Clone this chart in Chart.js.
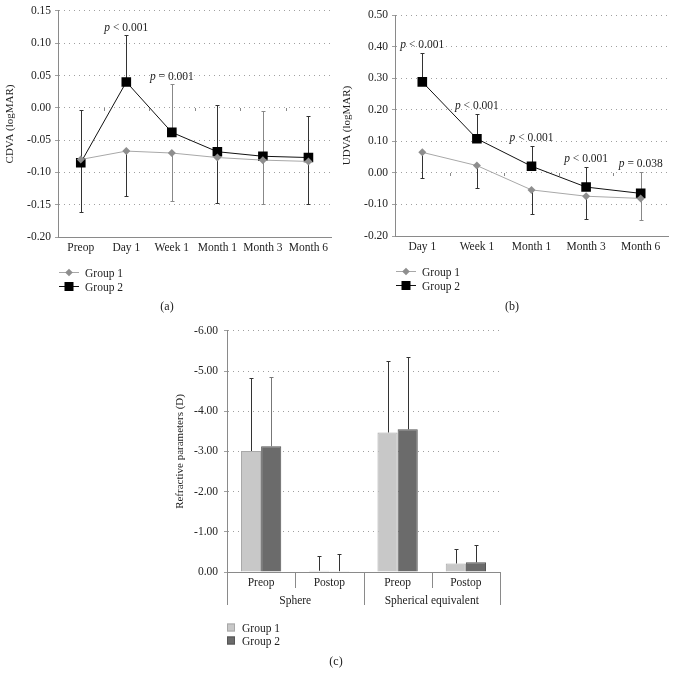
<!DOCTYPE html>
<html>
<head>
<meta charset="utf-8">
<script src="https://cdn.jsdelivr.net/npm/chart.js@4"></script>
<style>
  body { margin: 0; background: #fff; width: 675px; height: 684px; position: relative; overflow: hidden; font-family: "Liberation Serif", serif; }
  .box { position: absolute; }
  .cap { position: absolute; font-size: 12px; color: #222; transform: translateX(-50%); }
</style>
</head>
<body>
<div class="box" style="left:0;top:0;width:338px;height:320px"><canvas id="chartA"></canvas></div>
<div class="box" style="left:337px;top:0;width:338px;height:320px"><canvas id="chartB"></canvas></div>
<div class="box" style="left:150px;top:318px;width:370px;height:335px"><canvas id="chartC"></canvas></div>
<div class="cap" style="left:167px;top:299px">(a)</div>
<div class="cap" style="left:512px;top:299px">(b)</div>
<div class="cap" style="left:336px;top:654px">(c)</div>

<script>
// (a) CDVA
var visitsA = ['Preop', 'Day 1', 'Week 1', 'Month 1', 'Month 3', 'Month 6'];
var cdvaGroup1 = [-0.080, -0.067, -0.070, -0.077, -0.081, -0.083];
var cdvaGroup2 = [-0.085, 0.040, -0.038, -0.068, -0.075, -0.077];
var cdvaGroup2Upper = [-0.003, 0.112, 0.037, 0.005, -0.005, -0.012];
var cdvaGroup1Lower = [-0.162, -0.137, -0.144, -0.147, -0.149, -0.149];
var cdvaPValues = ['', 'p < 0.001', 'p = 0.001', '', '', ''];

// (b) UDVA
var visitsB = ['Day 1', 'Week 1', 'Month 1', 'Month 3', 'Month 6'];
var udvaGroup1 = [0.065, 0.023, -0.054, -0.074, -0.081];
var udvaGroup2 = [0.288, 0.108, 0.021, -0.045, -0.065];
var udvaGroup2Upper = [0.380, 0.187, 0.084, 0.020, 0.002];
var udvaGroup1Lower = [-0.015, -0.047, -0.129, -0.145, -0.149];
var udvaPValues = ['p < 0.001', 'p < 0.001', 'p < 0.001', 'p < 0.001', 'p = 0.038'];

// (c) refraction
var refrLabels = ['Preop', 'Postop', 'Preop', 'Postop'];
var refrGroups = ['Sphere', 'Spherical equivalent'];
var refrGroup1 = [-3.01, -0.03, -3.47, -0.21];
var refrGroup2 = [-3.13, -0.02, -3.55, -0.24];
var refrGroup1Err = [-4.83, -0.39, -5.26, -0.57];
var refrGroup2Err = [-4.86, -0.44, -5.36, -0.67];

Chart.defaults.font.family = '"Liberation Serif", serif';
Chart.defaults.font.size = 11.5;
Chart.defaults.color = '#222';

var SERIF = '"Liberation Serif", serif';
var gridColor = '#a0a0a0';
var axisColor = '#8a8a8a';

function fmt2(v) {
    if (Math.abs(v) < 1e-9) return '0.00';
    return v.toFixed(2);
}

// error bars from a dataset's points to given end values
var errorBarPlugin = {
    id: 'errorBars',
    beforeDatasetsDraw: function(chart, args, opts) {
        if (!opts.bars) return;
        var ctx = chart.ctx, ys = chart.scales.y;
        ctx.save();
        ctx.lineWidth = 1;
        opts.bars.forEach(function(bar) {
            var meta = chart.getDatasetMeta(bar.dataset);
            meta.data.forEach(function(el, i) {
                var end = bar.ends[i];
                if (end == null) return;
                ctx.strokeStyle = Array.isArray(bar.color) ? bar.color[i] : bar.color;
                var x = Math.round(el.x) + 0.5;
                var y1 = Math.round(ys.getPixelForValue(end)) + 0.5;
                ctx.beginPath();
                ctx.moveTo(x, el.y);
                ctx.lineTo(x, y1);
                ctx.moveTo(x - bar.cap, y1);
                ctx.lineTo(x + bar.cap, y1);
                ctx.stroke();
            });
        });
        ctx.restore();
    }
};

// p value labels above the upper error bar
var pLabelPlugin = {
    id: 'pLabels',
    afterDatasetsDraw: function(chart, args, opts) {
        if (!opts.labels) return;
        var ctx = chart.ctx, ys = chart.scales.y;
        var meta = chart.getDatasetMeta(opts.dataset);
        ctx.save();
        ctx.fillStyle = '#222';
        ctx.textBaseline = 'alphabetic';
        opts.labels.forEach(function(txt, i) {
            if (!txt) return;
            var x = meta.data[i].x;
            var y = ys.getPixelForValue(opts.anchors[i]) - opts.gap;
            var rest = txt.slice(1);
            ctx.font = 'italic 11.5px ' + SERIF;
            var w1 = ctx.measureText('p').width;
            ctx.font = '11.5px ' + SERIF;
            var w2 = ctx.measureText(rest).width;
            var x0 = x - (w1 + w2) / 2;
            ctx.font = 'italic 11.5px ' + SERIF;
            ctx.fillText('p', x0, y);
            ctx.font = '11.5px ' + SERIF;
            ctx.fillText(rest, x0 + w1, y);
        });
        ctx.restore();
    }
};

// small category ticks on the zero line
var zeroTickPlugin = {
    id: 'zeroTicks',
    afterDraw: function(chart, args, opts) {
        if (!opts.display) return;
        var ctx = chart.ctx, xs = chart.scales.x, ys = chart.scales.y;
        var n = chart.data.labels.length;
        var y0 = Math.round(ys.getPixelForValue(0));
        ctx.save();
        ctx.strokeStyle = axisColor;
        ctx.lineWidth = 1;
        for (var i = 1; i < n; i++) {
            var x = Math.round((xs.getPixelForValue(i - 1) + xs.getPixelForValue(i)) / 2) + 0.5;
            ctx.beginPath();
            ctx.moveTo(x, y0);
            ctx.lineTo(x, y0 + 3);
            ctx.stroke();
        }
        ctx.restore();
    }
};

function markerPath(ctx, style, x, y, r) {
    ctx.beginPath();
    if (style === 'rect') {
        ctx.rect(x - r, y - r, 2 * r, 2 * r);
    } else {
        ctx.moveTo(x, y - r);
        ctx.lineTo(x + r, y);
        ctx.lineTo(x, y + r);
        ctx.lineTo(x - r, y);
        ctx.closePath();
    }
}

// stacked legend below the plot
var stackLegendPlugin = {
    id: 'stackLegend',
    afterDraw: function(chart, args, opts) {
        if (!opts.display) return;
        var ctx = chart.ctx, area = chart.chartArea;
        ctx.save();
        ctx.font = '11.5px ' + SERIF;
        ctx.textBaseline = 'middle';
        chart.data.datasets.forEach(function(ds, i) {
            var y = Math.round(area.bottom + opts.top + i * opts.rowGap) + 0.5;
            var x = area.left + opts.left;
            if (opts.kind === 'line') {
                ctx.strokeStyle = ds.borderColor;
                ctx.lineWidth = 1;
                ctx.beginPath();
                ctx.moveTo(x, y);
                ctx.lineTo(x + 20, y);
                ctx.stroke();
                ctx.fillStyle = ds.pointBackgroundColor;
                markerPath(ctx, ds.pointStyle, x + 10, y, ds.pointStyle === 'rect' ? 4.5 : 3.8);
                ctx.fill();
                ctx.fillStyle = '#222';
                ctx.fillText(ds.label, x + 26, y + 1);
            } else {
                ctx.fillStyle = ds.backgroundColor;
                ctx.strokeStyle = ds.borderColor;
                ctx.lineWidth = 1;
                ctx.fillRect(x, y - 4, 8, 8);
                ctx.strokeRect(x + 0.5, y - 3.5, 7, 7);
                ctx.fillStyle = '#222';
                ctx.fillText(ds.label, x + 15, y + 1);
            }
        });
        ctx.restore();
    }
};

// two-level category axis for chart (c)
var groupAxisPlugin = {
    id: 'groupAxis',
    afterDraw: function(chart, args, opts) {
        if (!opts.groups) return;
        var ctx = chart.ctx, xs = chart.scales.x, area = chart.chartArea;
        var n = chart.data.labels.length, size = opts.size;
        ctx.save();
        ctx.strokeStyle = axisColor;
        ctx.lineWidth = 1;
        for (var i = 0; i <= n; i++) {
            var x;
            if (i === 0) x = area.left;
            else if (i === n) x = area.right;
            else x = (xs.getPixelForValue(i - 1) + xs.getPixelForValue(i)) / 2;
            x = Math.round(x) + 0.5;
            var len = (i % size === 0) ? opts.longLen : opts.shortLen;
            ctx.beginPath();
            ctx.moveTo(x, area.bottom);
            ctx.lineTo(x, area.bottom + len);
            ctx.stroke();
        }
        ctx.fillStyle = '#222';
        ctx.font = '11.5px ' + SERIF;
        ctx.textAlign = 'center';
        ctx.textBaseline = 'middle';
        opts.groups.forEach(function(g, k) {
            var a = xs.getPixelForValue(k * size), b = xs.getPixelForValue(k * size + size - 1);
            ctx.fillText(g, (a + b) / 2, area.bottom + opts.labelOffset);
        });
        ctx.restore();
    }
};

Chart.register(errorBarPlugin, pLabelPlugin, zeroTickPlugin, stackLegendPlugin, groupAxisPlugin);

function lineOptions(yMin, yMax, step, title, extra) {
    return {
        responsive: true,
        maintainAspectRatio: false,
        animation: false,
        layout: { padding: extra.padding },
        plugins: {
            legend: { display: false },
            tooltip: { enabled: false },
            errorBars: extra.errorBars,
            pLabels: extra.pLabels,
            zeroTicks: { display: true },
            stackLegend: { display: true, kind: 'line', left: 1, top: 35, rowGap: 14 }
        },
        scales: {
            x: {
                offset: true,
                grid: { display: false, drawTicks: false },
                border: { display: true, color: axisColor, width: 1 },
                ticks: { padding: 4, maxRotation: 0, autoSkip: false },
                afterFit: function(scale) { scale.height = 20; }
            },
            y: {
                min: yMin,
                max: yMax,
                grid: { color: gridColor, tickLength: 3, drawTicks: true },
                border: { display: true, color: axisColor, width: 1, dash: [1, 4] },
                ticks: { stepSize: step, padding: 4, callback: function(v) { return fmt2(v); } },
                title: { display: true, text: title, font: { size: 11 }, padding: { top: 4, bottom: 0 } },
                afterFit: function(scale) { scale.width = 58; }
            }
        }
    };
}

function lineData(labels, g1, g2) {
    return {
        labels: labels,
        datasets: [{
            label: 'Group 1',
            data: g1,
            borderColor: '#a8a8a8',
            borderWidth: 1,
            pointStyle: 'rectRot',
            pointRadius: 4,
            pointBackgroundColor: '#8e8e8e',
            pointBorderColor: '#8e8e8e',
            pointBorderWidth: 0
        }, {
            label: 'Group 2',
            data: g2,
            borderColor: '#111',
            borderWidth: 1,
            pointStyle: 'rect',
            pointRadius: 6.8,
            pointBackgroundColor: '#000',
            pointBorderColor: '#000',
            pointBorderWidth: 0
        }]
    };
}

// (a)
new Chart(document.getElementById('chartA').getContext('2d'), {
    type: 'line',
    data: lineData(visitsA, cdvaGroup1, cdvaGroup2),
    options: lineOptions(-0.20, 0.15, 0.05, 'CDVA (logMAR)', {
        padding: { top: 10, right: 5, bottom: 63, left: 0 },
        errorBars: { bars: [
            { dataset: 1, ends: cdvaGroup2Upper, cap: 2, color: ['#333', '#333', '#888', '#333', '#888', '#333'] },
            { dataset: 0, ends: cdvaGroup1Lower, cap: 2, color: ['#333', '#333', '#888', '#333', '#888', '#333'] }
        ] },
        pLabels: { labels: cdvaPValues, anchors: cdvaGroup2Upper, dataset: 1, gap: 4 }
    })
});

// (b)
new Chart(document.getElementById('chartB').getContext('2d'), {
    type: 'line',
    data: lineData(visitsB, udvaGroup1, udvaGroup2),
    options: lineOptions(-0.20, 0.50, 0.10, 'UDVA (logMAR)', {
        padding: { top: 15, right: 7, bottom: 64, left: 0 },
        errorBars: { bars: [
            { dataset: 1, ends: udvaGroup2Upper, cap: 2, color: ['#333', '#333', '#333', '#333', '#888'] },
            { dataset: 0, ends: udvaGroup1Lower, cap: 2, color: ['#333', '#333', '#333', '#333', '#888'] }
        ] },
        pLabels: { labels: udvaPValues, anchors: udvaGroup2Upper, dataset: 1, gap: 5 }
    })
});

// (c)
new Chart(document.getElementById('chartC').getContext('2d'), {
    type: 'bar',
    data: {
        labels: refrLabels,
        datasets: [{
            label: 'Group 1',
            data: refrGroup1,
            backgroundColor: '#c8c8c8',
            borderColor: '#a8a8a8',
            borderWidth: 1
        }, {
            label: 'Group 2',
            data: refrGroup2,
            backgroundColor: '#6b6b6b',
            borderColor: '#555',
            borderWidth: 1
        }]
    },
    options: {
        responsive: true,
        maintainAspectRatio: false,
        animation: false,
        categoryPercentage: 0.59,
        barPercentage: 1.0,
        layout: { padding: { top: 8, right: 20, bottom: 61, left: 0 } },
        plugins: {
            legend: { display: false },
            tooltip: { enabled: false },
            errorBars: { bars: [
                { dataset: 0, ends: refrGroup1Err, cap: 2, color: '#333' },
                { dataset: 1, ends: refrGroup2Err, cap: 2, color: ['#777', '#333', '#333', '#333'] }
            ] },
            groupAxis: { groups: refrGroups, size: 2, shortLen: 16, longLen: 33, labelOffset: 29 },
            stackLegend: { display: true, kind: 'bar', left: 0, top: 55, rowGap: 13 }
        },
        scales: {
            x: {
                grid: { display: false, drawTicks: false },
                border: { display: true, color: axisColor, width: 1 },
                ticks: { padding: 4, maxRotation: 0, autoSkip: false },
                afterFit: function(scale) { scale.height = 20; }
            },
            y: {
                reverse: true,
                min: -6,
                max: 0,
                grid: { color: gridColor, tickLength: 3, drawTicks: true },
                border: { display: true, color: axisColor, width: 1, dash: [1, 4] },
                ticks: { stepSize: 1, padding: 6, callback: function(v) { return fmt2(v); } },
                title: { display: true, text: 'Refractive parameters (D)', font: { size: 11 }, padding: { top: 24, bottom: 0 } },
                afterFit: function(scale) { scale.width = 77; }
            }
        }
    }
});
</script>
</body>
</html>
